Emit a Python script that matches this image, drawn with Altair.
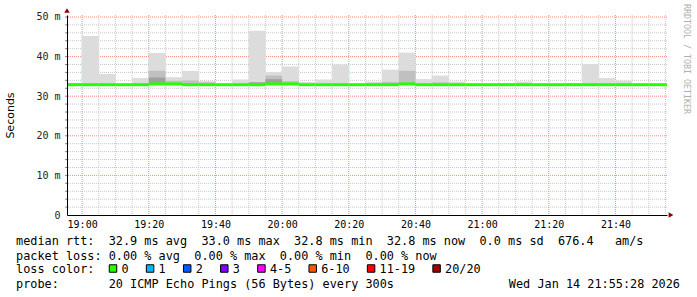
import altair as alt
import pandas as pd

# ---------------- data ----------------
interval_starts = ["18:55", "19:00", "19:05", "19:10", "19:15", "19:20", "19:25", "19:30",
                   "19:35", "19:40", "19:45", "19:50", "19:55", "20:00", "20:05", "20:10",
                   "20:15", "20:20", "20:25", "20:30", "20:35", "20:40", "20:45", "20:50",
                   "20:55", "21:00", "21:05", "21:10", "21:15", "21:20", "21:25", "21:30",
                   "21:35", "21:40", "21:45", "21:50", "21:55"]
smoke_max = [33.4, 45.2, 35.6, 33.1, 34.6, 40.9, 34.8, 36.4,
             33.8, 33.0, 34.2, 46.5, 36.1, 37.5, 33.6, 34.2,
             38.0, 33.0, 33.7, 36.7, 41.0, 34.3, 35.2, 33.7,
             33.0, 33.0, 33.3, 33.7, 33.0, 33.0, 33.3, 38.1,
             34.6, 33.9, 33.0, 33.0, 33.0]
smoke_mid = [33.0, 33.0, 33.0, 33.0, 33.0, 36.4, 33.9, 34.0,
             33.5, 33.0, 33.0, 33.5, 35.2, 33.8, 33.0, 33.0,
             33.0, 33.0, 33.3, 33.6, 36.4, 33.0, 33.5, 33.0,
             33.0, 33.0, 33.0, 33.0, 33.0, 33.0, 33.0, 33.0,
             33.0, 33.0, 33.0, 33.0, 33.0]
smoke_inner = [33.0, 33.0, 33.0, 33.0, 33.0, 34.7, 33.0, 33.0,
               33.0, 33.0, 33.0, 33.5, 34.3, 33.0, 33.0, 33.0,
               33.0, 33.0, 33.0, 33.0, 33.0, 33.0, 33.0, 33.0,
               33.0, 33.0, 33.0, 33.0, 33.0, 33.0, 33.0, 33.0,
               33.0, 33.0, 33.0, 33.0, 33.0]
median_rtt = [32.9, 32.9, 32.9, 32.9, 32.9, 33.1, 33.1, 32.9,
              32.9, 32.9, 32.9, 32.9, 33.1, 33.1, 32.9, 32.9,
              32.9, 32.9, 32.9, 32.9, 33.1, 32.9, 32.9, 32.9,
              32.9, 32.9, 32.9, 32.9, 32.9, 32.9, 32.9, 32.9,
              32.9, 32.9, 32.9, 32.9, 32.9]

x_tick_labels = ["19:00", "19:20", "19:40", "20:00", "20:20", "20:40", "21:00", "21:20", "21:40"]
y_tick_values = [0, 10, 20, 30, 40, 50]

loss_labels = ["0", "1", "2", "3", "4-5", "6-10", "11-19", "20/20"]
loss_colors = ["#26ff00", "#00b8ff", "#0059ff", "#7e00ff", "#ff00ff", "#ff5500", "#ff0000", "#a10000"]

line_rtt = "median rtt:  32.9 ms avg  33.0 ms max  32.8 ms min  32.8 ms now  0.0 ms sd  676.4   am/s"
line_loss = "packet loss: 0.00 % avg  0.00 % max  0.00 % min  0.00 % now"
line_color = "loss color:"
line_probe = "probe:       20 ICMP Echo Pings (56 Bytes) every 300s"
date_text = "Wed Jan 14 21:55:28 2026"
side_text = "RRDTOOL / TOBI OETIKER"
y_title = "Seconds"

# ---------------- layout ----------------
W, H = 600, 200
PAD_L, PAD_T = 67, 15
MONO = "DejaVu Sans Mono"
NB = "\u00a0"
FS = 11.85


def to_min(s):
    h, m = s.split(":")
    return (int(h) - 19) * 60 + int(m)


X0 = -(4 + 32 / 60)   # 18:55:28
X1 = X0 + 180         # 21:55:28
xs = alt.Scale(domain=[X0, X1], nice=False, zero=False)
ys = alt.Scale(domain=[0, 50.5], nice=False, zero=False)

df = pd.DataFrame({
    "t": [to_min(s) for s in interval_starts],
    "top": smoke_max,
    "mid": smoke_mid,
    "inner": smoke_inner,
    "median": median_rtt,
})
df["t2"] = df["t"] + 5

label_js = "[" + ",".join("'" + s + "'" for s in x_tick_labels) + "]"
x_axis = alt.Axis(values=[to_min(s) for s in x_tick_labels],
                  labelExpr=label_js + "[round(datum.value/20)]",
                  title=None, grid=False, ticks=False, domain=True, domainColor="#000000",
                  domainWidth=1, labelFont=MONO, labelFontSize=10, labelColor="#000000",
                  labelPadding=4, zindex=1, labelFlush=False)
y_axis = alt.Axis(values=y_tick_values,
                  labelExpr="datum.value == 0 ? '0' : datum.value + ' m'",
                  title=y_title, grid=False, ticks=False, domain=True, domainColor="#000000",
                  domainWidth=1, labelFont=MONO, labelFontSize=10, labelColor="#222222",
                  labelPadding=7, zindex=1, labelFlush=False,
                  titleFont="DejaVu Sans", titleFontSize=11, titleFontWeight="normal",
                  titleColor="#000000", titleX=-57, titleY=100, titleAngle=270,
                  titleBaseline="middle", titleAlign="center")


def X(field):
    return alt.X(field, scale=xs, axis=x_axis)


def Y(field):
    return alt.Y(field, scale=ys, axis=y_axis)


# grid
minor_y = [v for v in range(2, 51, 2) if v % 10 != 0]
major_y = [v for v in range(10, 51, 10)]
minor_x = [t for t in range(5, 180, 5) if t % 20 != 0]
major_x = [to_min(s) for s in x_tick_labels]

base = alt.Chart(df)
smoke_outer = base.mark_rect(color="#dcdcdc", clip=True).encode(
    x=X("t:Q"), x2="t2:Q", y=Y("median:Q"), y2="top:Q")
smoke_mid_l = base.mark_rect(color="#c0c0c0", clip=True).encode(
    x=X("t:Q"), x2="t2:Q", y=Y("median:Q"), y2="mid:Q")
smoke_inner_l = base.mark_rect(color="#a0a0a0", clip=True).encode(
    x=X("t:Q"), x2="t2:Q", y=Y("median:Q"), y2="inner:Q")
median_l = base.mark_rule(color="#26ff00", strokeWidth=3, clip=True).encode(
    x=X("t:Q"), x2="t2:Q", y=Y("median:Q"))

grid_minor_y = alt.Chart(pd.DataFrame({"v": minor_y})).mark_rule(
    color="#c8c8c8", strokeDash=[1, 1], strokeWidth=1).encode(y=Y("v:Q"))
grid_major_y = alt.Chart(pd.DataFrame({"v": major_y})).mark_rule(
    color="#f09090", strokeDash=[1, 1], strokeWidth=1).encode(y=Y("v:Q"))
grid_minor_x = alt.Chart(pd.DataFrame({"t": minor_x})).mark_rule(
    color="#c8c8c8", strokeDash=[1, 1], strokeWidth=1, clip=True).encode(x=X("t:Q"))
grid_major_x = alt.Chart(pd.DataFrame({"t": major_x})).mark_rule(
    color="#f09090", strokeDash=[1, 1], strokeWidth=1).encode(x=X("t:Q"))
minor_ticks = alt.Chart(pd.DataFrame({"v": minor_y + major_y})).mark_rule(
    color="#888888", strokeWidth=1).encode(y=Y("v:Q"), x=alt.value(-2), x2=alt.value(1))

one = pd.DataFrame({"d": [0]})


def text_layer(txt, x, y, align="left", size=FS, color="#000000", font=MONO, angle=0):
    return alt.Chart(pd.DataFrame({"txt": [txt.replace(" ", NB)]})).mark_text(
        align=align, baseline="middle", font=font, fontSize=size, color=color,
        angle=angle).encode(x=alt.value(x), y=alt.value(y), text="txt:N")


LX = 16 - PAD_L
layers = [grid_minor_y, grid_major_y, grid_minor_x, grid_major_x, minor_ticks,
          smoke_outer, smoke_mid_l, smoke_inner_l, median_l]

layers.append(text_layer(line_rtt, LX, 241 - PAD_T))
layers.append(text_layer(line_loss, LX, 255.5 - PAD_T))
layers.append(text_layer(line_color, LX, 269 - PAD_T))
layers.append(text_layer(line_probe, LX, 284 - PAD_T))
layers.append(text_layer(date_text, 680 - PAD_L, 284 - PAD_T, align="right"))
layers.append(text_layer(side_text, 686 - PAD_L, 59 - PAD_T, align="center", size=8.3,
                         color="#b0b0b0", angle=90))

# loss colour legend
left = 109
for lab, col in zip(loss_labels, loss_colors):
    layers.append(alt.Chart(one).mark_square(size=56, filled=True, color=col, stroke="#000000",
                                             strokeWidth=1, opacity=1).encode(
        x=alt.value(left + 4 - PAD_L), y=alt.value(268.5 - PAD_T)))
    layers.append(text_layer(lab, left + 12.5 - PAD_L, 269 - PAD_T))
    left += 30 + 7.1 * len(lab)

# axis arrows
layers.append(alt.Chart(one).mark_point(shape="triangle-up", filled=True, color="#8b0000",
                                        size=30, opacity=1).encode(
    x=alt.value(0), y=alt.value(-4.5)))
layers.append(alt.Chart(one).mark_point(shape="triangle-right", filled=True, color="#8b0000",
                                        size=30, opacity=1).encode(
    x=alt.value(W + 4), y=alt.value(H)))

chart = alt.layer(*layers).properties(
    width=W, height=H,
    autosize=alt.AutoSizeParams(type="none"),
    padding={"left": PAD_L, "top": PAD_T, "right": 697 - PAD_L - W, "bottom": 297 - PAD_T - H},
    background="#ffffff",
).configure_view(stroke=None)

chart.save("out.html", embed_options={"renderer": "svg", "actions": False})
